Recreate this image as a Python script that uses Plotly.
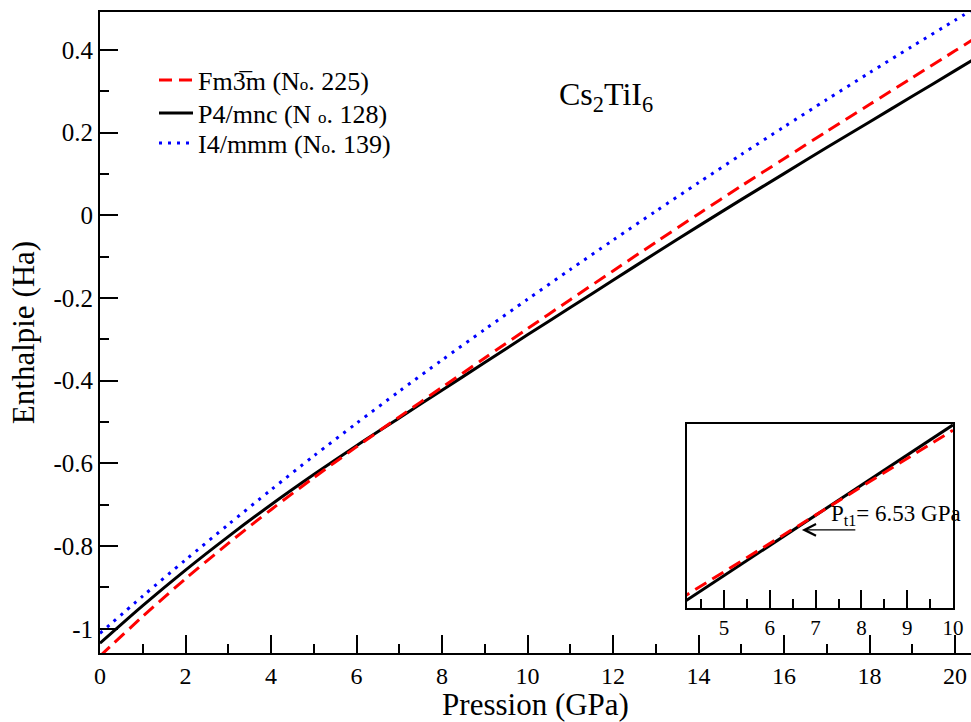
import plotly.graph_objects as go

# ---------------- data ----------------
pressure = [0, 1, 2, 3, 4, 5, 6, 7, 8, 9, 10, 11, 12, 13, 14, 15, 16, 17, 18, 19, 20, 20.4]
h_fm3m = [-1.066, -0.970, -0.879, -0.7935, -0.712, -0.6345, -0.560, -0.4875, -0.416, -0.345,
          -0.274, -0.204, -0.1345, -0.065, 0.0035, 0.071, 0.137, 0.203, 0.268, 0.333, 0.398, 0.424]
h_p4mnc = [-1.035, -0.944, -0.858, -0.777, -0.700, -0.627, -0.557, -0.490, -0.423, -0.356,
           -0.289, -0.223, -0.157, -0.091, -0.026, 0.038, 0.101, 0.164, 0.226, 0.288, 0.350, 0.375]
h_i4mmm = [-1.011, -0.921, -0.8335, -0.748, -0.664, -0.582, -0.503, -0.4255, -0.350, -0.276,
           -0.203, -0.131, -0.060, 0.010, 0.079, 0.147, 0.214, 0.280, 0.345, 0.409, 0.472, 0.497]

series_names = ["Fm3\u0305m (N<span style='font-size:17px'>o</span>. 225)",
                "P4/mnc (N <span style='font-size:17px'>o</span>. 128)",
                "I4/mmm (N<span style='font-size:17px'>o</span>. 139)"]

x_tickvals = [0, 2, 4, 6, 8, 10, 12, 14, 16, 18, 20]
x_ticktext = ["0", "2", "4", "6", "8", "10", "12", "14", "16", "18", "20"]
y_tickvals = [-1.0, -0.8, -0.6, -0.4, -0.2, 0.0, 0.2, 0.4]
y_ticktext = ["-1", "-0.8", "-0.6", "-0.4", "-0.2", "0", "0.2", "0.4"]

# inset (zoom around the transition)
inset_pressure = [4, 5, 6, 7, 8, 9, 10]
inset_h_fm3m = [-0.688, -0.624, -0.5598, -0.4956, -0.4314, -0.3672, -0.303]
inset_h_p4mnc = [-0.701, -0.6327, -0.5644, -0.4960, -0.4277, -0.3594, -0.291]
inset_tickvals = [5, 6, 7, 8, 9, 10]
inset_ticktext = ["5", "6", "7", "8", "9", "10"]

transition_label = "P<sub>t1</sub>= 6.53 GPa"
transition_arrow_head = 6.70
transition_arrow_tail = 7.90
transition_arrow_level = -0.529

FONT = "Liberation Serif"

fig = go.Figure()

# main curves (black drawn first, red on top of it); each in its own legend box
fig.add_trace(go.Scatter(x=pressure, y=h_p4mnc, mode="lines", name=series_names[1],
                         line=dict(color="black", width=3, shape="spline", smoothing=0.8),
                         legend="legend2"))
fig.add_trace(go.Scatter(x=pressure, y=h_fm3m, mode="lines", name=series_names[0],
                         line=dict(color="#ff0000", width=3, dash="13px,7px",
                                   shape="spline", smoothing=0.8),
                         legend="legend"))
fig.add_trace(go.Scatter(x=pressure, y=h_i4mmm, mode="lines", name=series_names[2],
                         line=dict(color="#0000ff", width=3, dash="3px,6px",
                                   shape="spline", smoothing=0.8),
                         legend="legend3"))

# inset curves
fig.add_trace(go.Scatter(x=inset_pressure, y=inset_h_p4mnc, mode="lines", showlegend=False,
                         line=dict(color="black", width=3), xaxis="x2", yaxis="y2"))
fig.add_trace(go.Scatter(x=inset_pressure, y=inset_h_fm3m, mode="lines", showlegend=False,
                         line=dict(color="#ff0000", width=3, dash="13px,7px"),
                         xaxis="x2", yaxis="y2"))

axis_common = dict(showgrid=False, zeroline=False, showline=True, linecolor="black",
                   linewidth=2, ticks="inside", tickcolor="black", tickwidth=1.5,
                   automargin=False)

legend_common = dict(x=0.062, xanchor="left", yanchor="middle", bgcolor="rgba(0,0,0,0)",
                     borderwidth=0, font=dict(size=26, family=FONT), itemwidth=34)

fig.update_layout(
    width=971, height=722,
    margin=dict(l=100, r=0, t=12, b=69, autoexpand=False),
    paper_bgcolor="white", plot_bgcolor="white",
    font=dict(family=FONT, color="black"),
    xaxis=dict(**axis_common, domain=[0, 1], range=[0, 20.374], mirror=True,
               tickmode="array", tickvals=x_tickvals, ticktext=x_ticktext, ticklen=18,
               tickfont=dict(size=24, family=FONT),
               minor=dict(ticks="inside", ticklen=9, tick0=0, dtick=1,
                          tickcolor="black", tickwidth=1.5),
               title=dict(text="Pression (GPa)", font=dict(size=31, family=FONT), standoff=7)),
    yaxis=dict(**axis_common, domain=[0, 1], range=[-1.0586, 0.4919], mirror=False,
               tickmode="array", tickvals=y_tickvals, ticktext=y_ticktext, ticklen=18,
               tickfont=dict(size=25, family=FONT),
               minor=dict(ticks="inside", ticklen=9, tick0=0, dtick=0.1,
                          tickcolor="black", tickwidth=1.5),
               title=dict(text="Enthalpie (Ha)", font=dict(size=31, family=FONT), standoff=10)),
    xaxis2=dict(**axis_common, domain=[0.6739, 0.9793], anchor="y2", range=[4.19, 10.0],
                mirror=True, tickmode="array", tickvals=inset_tickvals, ticktext=inset_ticktext,
                ticklen=18, tickfont=dict(size=21, family=FONT),
                minor=dict(ticks="inside", ticklen=9, tick0=0, dtick=0.5,
                           tickcolor="black", tickwidth=1.5)),
    yaxis2=dict(showgrid=False, zeroline=False, showline=True, linecolor="black", linewidth=2,
                mirror=True, ticks="", showticklabels=False, automargin=False,
                domain=[0.0702, 0.3573], anchor="x2", range=[-0.706, -0.289]),
    legend=dict(**legend_common, y=0.8939),
    legend2=dict(**legend_common, y=0.8424),
    legend3=dict(**legend_common, y=0.7956),
    showlegend=True,
)

# compound name
fig.add_annotation(text="Cs<sub>2</sub>TiI<sub>6</sub>", xref="paper", yref="paper",
                   x=0.581, y=0.8674, xanchor="center", yanchor="middle", showarrow=False,
                   font=dict(size=32, family=FONT, color="black"))

# transition pressure label and arrow in the inset
fig.add_annotation(text=transition_label, xref="x2", yref="y2", x=7.29, y=-0.495,
                   xanchor="left", yanchor="middle", showarrow=False,
                   font=dict(size=23, family=FONT, color="black"))
fig.add_annotation(text="", xref="x2", yref="y2", axref="x2", ayref="y2",
                   x=transition_arrow_head, y=transition_arrow_level,
                   ax=transition_arrow_tail, ay=transition_arrow_level,
                   showarrow=True, arrowhead=5, arrowsize=1.9, arrowwidth=1.2,
                   arrowcolor="black")

fig.write_html("out.html")
